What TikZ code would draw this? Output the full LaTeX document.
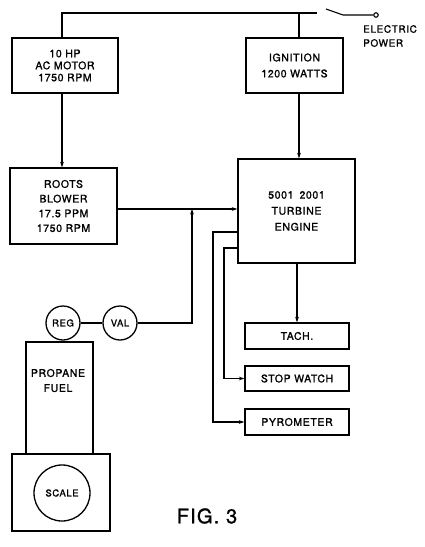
\documentclass[tikz,border=0pt]{standalone}
\usepackage{fontspec}
\setmainfont{TeX Gyre Heros}[LetterSpace=6.0,FakeBold=1.3]
\usetikzlibrary{arrows.meta}
\begin{document}
\begin{tikzpicture}[x=1pt,y=-1pt,
  box/.style={draw,line width=1.5pt,inner sep=0pt,align=center,font=\fontsize{10.5}{15}\selectfont},
  circ/.style={draw,line width=1.3pt,circle,inner sep=0pt,font=\fontsize{9.5}{11}\selectfont},
  wire/.style={line width=1.1pt},
  arr/.style={wire,-{Stealth[length=5.5pt,width=3.8pt]}}]
\useasboundingbox (0,0) rectangle (425,547);
% boxes
\node[box,minimum width=106pt,minimum height=55pt,font=\fontsize{10.5}{12}\selectfont] (motor) at (65,65.5) {10 HP\\AC MOTOR\\1750 RPM};
\node[box,minimum width=97pt,minimum height=55pt,font=\fontsize{10.5}{16}\selectfont] (ign) at (294.5,65.5) {IGNITION\\1200 WATTS};
\node[box,minimum width=107pt,minimum height=76pt,font=\fontsize{10.5}{14.7}\selectfont] (blower) at (63.5,206) {ROOTS\\BLOWER\\17.5 PPM\\1750 RPM};
\node[box,minimum width=117pt,minimum height=104pt,font=\fontsize{10.5}{16}\selectfont] (turb) at (296.5,211) {5001\hspace{6pt}2001\\TURBINE\\ENGINE};
\node[box,minimum width=104pt,minimum height=26pt] (tach) at (297,336) {TACH.};
\node[box,minimum width=104pt,minimum height=25pt] (stop) at (297,378.5) {STOP WATCH};
\node[box,minimum width=104pt,minimum height=26pt] (pyro) at (297,422) {PYROMETER};
\node[circ,minimum size=34pt] (reg) at (63,323) {REG};
\node[circ,minimum size=34pt] (val) at (120,323) {VAL};
\node[box,minimum width=67pt,minimum height=112pt] (prop) at (59.5,398) {};
\node[font=\fontsize{10.5}{15}\selectfont,align=center,inner sep=0pt] (proptxt) at (58,380.5) {PROPANE\\FUEL};
\node[box,minimum width=98pt,minimum height=77pt] (scalebox) at (61,492.5) {};
\node[circ,minimum size=56pt] (scale) at (62,493) {SCALE};
\node[font=\fontsize{20}{22}\selectfont,inner sep=0pt] (fig) at (207,516) {FIG. 3};
\node[font=\fontsize{10}{14}\selectfont,align=left,anchor=west,inner sep=0pt] (power) at (363,36) {ELECTRIC\\POWER};
% power wiring
\coordinate (wl) at (62,13);
\coordinate (wj) at (299,13);
\coordinate (sw) at (317,13);
\coordinate (bl1) at (326,9);
\coordinate (bl2) at (343,15);
\node[circle,draw,wire,inner sep=0pt,minimum size=4.5pt] (term) at (376,15) {};
\draw[wire] (wl |- motor.north) -- (wl) -- (sw);
\draw[wire] (wj) -- (wj |- ign.north);
\draw[wire] (bl1) -- (bl2) -- (term.west);
% flows
\draw[arr] (wl |- motor.south) -- (wl |- blower.north);
\draw[arr] (wj |- ign.south) -- (wj |- turb.north);
\coordinate (bj) at (192,209);
\draw[arr] (blower.east |- bj) -- (turb.west |- bj);
\draw[wire] (reg) -- (val);
\draw[arr] (val.east) -- (val.east -| bj) -- (bj);
\draw[arr] (turb.south -| tach.north) -- (tach.north);
\coordinate (s1) at (224,248);
\coordinate (p1) at (213,232);
\draw[arr] (turb.west |- s1) -- (s1) |- (stop.west);
\draw[arr] (turb.west |- p1) -- (p1) |- (pyro.west);
\draw[wire] (reg.south) -- (prop.north -| reg.south);
\end{tikzpicture}
\end{document}
